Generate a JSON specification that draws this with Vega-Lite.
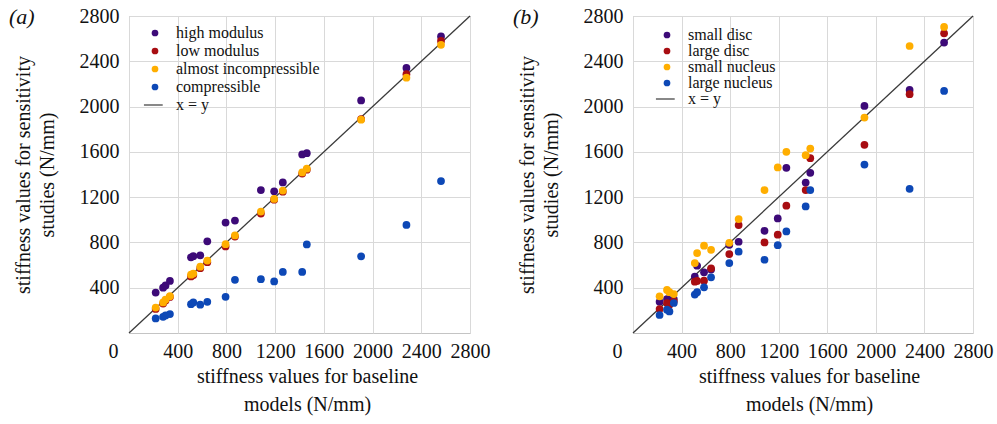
{
  "$schema": "https://vega.github.io/schema/vega-lite/v6.json",
  "padding": {"left": 8, "top": 5, "right": 5, "bottom": 5},
  "background": "white",
  "bounds": "flush",
  "spacing": 163,
  "config": {
    "view": {"stroke": "#c4c4c4", "strokeWidth": 1},
    "font": "Liberation Serif",
    "style": {"guide-label": {"font": "Liberation Serif"}, "guide-title": {"font": "Liberation Serif"}},
    "axis": {
      "labelFont": "Liberation Serif", "labelFontSize": 20, "labelColor": "#111",
      "titleFont": "Liberation Serif", "titleFontSize": 20, "titleFontWeight": "normal", "titleColor": "#111",
      "domain": false, "ticks": false, "gridColor": "#d9d9d9", "gridWidth": 1, "labelFlush": false, "format": "d"
    },
    "legend": {
      "labelFont": "Liberation Serif", "labelFontSize": 16, "labelColor": "#111",
      "symbolSize": 45, "labelOffset": 13, "padding": 0, "orient": "none"
    }
  },
  "datasets": {
    "diag": [{"x": 0, "y": 0}, {"x": 2800, "y": 2800}],
    "a": [
      {"x": 219, "y": 357, "s": "high modulus"}, {"x": 280, "y": 400, "s": "high modulus"}, {"x": 300, "y": 420, "s": "high modulus"}, {"x": 336, "y": 460, "s": "high modulus"},
      {"x": 509, "y": 668, "s": "high modulus"}, {"x": 528, "y": 679, "s": "high modulus"}, {"x": 585, "y": 686, "s": "high modulus"}, {"x": 643, "y": 810, "s": "high modulus"},
      {"x": 793, "y": 975, "s": "high modulus"}, {"x": 870, "y": 993, "s": "high modulus"}, {"x": 1083, "y": 1263, "s": "high modulus"}, {"x": 1192, "y": 1251, "s": "high modulus"},
      {"x": 1263, "y": 1330, "s": "high modulus"}, {"x": 1422, "y": 1577, "s": "high modulus"}, {"x": 1460, "y": 1588, "s": "high modulus"}, {"x": 1906, "y": 2054, "s": "high modulus"},
      {"x": 2278, "y": 2341, "s": "high modulus"}, {"x": 2562, "y": 2620, "s": "high modulus"},
      {"x": 219, "y": 212, "s": "low modulus"}, {"x": 280, "y": 260, "s": "low modulus"}, {"x": 300, "y": 287, "s": "low modulus"}, {"x": 336, "y": 318, "s": "low modulus"},
      {"x": 509, "y": 500, "s": "low modulus"}, {"x": 528, "y": 512, "s": "low modulus"}, {"x": 585, "y": 572, "s": "low modulus"}, {"x": 643, "y": 625, "s": "low modulus"},
      {"x": 793, "y": 765, "s": "low modulus"}, {"x": 870, "y": 852, "s": "low modulus"}, {"x": 1083, "y": 1055, "s": "low modulus"}, {"x": 1192, "y": 1178, "s": "low modulus"},
      {"x": 1263, "y": 1248, "s": "low modulus"}, {"x": 1422, "y": 1408, "s": "low modulus"}, {"x": 1460, "y": 1443, "s": "low modulus"}, {"x": 1906, "y": 1890, "s": "low modulus"},
      {"x": 2278, "y": 2286, "s": "low modulus"}, {"x": 2562, "y": 2580, "s": "low modulus"},
      {"x": 219, "y": 225, "s": "almost incompressible"}, {"x": 280, "y": 270, "s": "almost incompressible"}, {"x": 300, "y": 295, "s": "almost incompressible"}, {"x": 336, "y": 325, "s": "almost incompressible"},
      {"x": 509, "y": 515, "s": "almost incompressible"}, {"x": 528, "y": 525, "s": "almost incompressible"}, {"x": 585, "y": 586, "s": "almost incompressible"}, {"x": 643, "y": 640, "s": "almost incompressible"},
      {"x": 793, "y": 785, "s": "almost incompressible"}, {"x": 870, "y": 862, "s": "almost incompressible"}, {"x": 1083, "y": 1073, "s": "almost incompressible"}, {"x": 1192, "y": 1184, "s": "almost incompressible"},
      {"x": 1263, "y": 1258, "s": "almost incompressible"}, {"x": 1422, "y": 1418, "s": "almost incompressible"}, {"x": 1460, "y": 1451, "s": "almost incompressible"}, {"x": 1906, "y": 1884, "s": "almost incompressible"},
      {"x": 2278, "y": 2255, "s": "almost incompressible"}, {"x": 2562, "y": 2545, "s": "almost incompressible"},
      {"x": 219, "y": 129, "s": "compressible"}, {"x": 280, "y": 143, "s": "compressible"}, {"x": 300, "y": 155, "s": "compressible"}, {"x": 336, "y": 167, "s": "compressible"},
      {"x": 509, "y": 255, "s": "compressible"}, {"x": 528, "y": 270, "s": "compressible"}, {"x": 585, "y": 250, "s": "compressible"}, {"x": 643, "y": 275, "s": "compressible"},
      {"x": 793, "y": 320, "s": "compressible"}, {"x": 870, "y": 470, "s": "compressible"}, {"x": 1083, "y": 475, "s": "compressible"}, {"x": 1192, "y": 455, "s": "compressible"},
      {"x": 1263, "y": 539, "s": "compressible"}, {"x": 1422, "y": 539, "s": "compressible"}, {"x": 1460, "y": 782, "s": "compressible"}, {"x": 1906, "y": 677, "s": "compressible"},
      {"x": 2278, "y": 955, "s": "compressible"}, {"x": 2562, "y": 1342, "s": "compressible"}
    ],
    "b": [
      {"x": 219, "y": 276, "s": "small disc"}, {"x": 280, "y": 300, "s": "small disc"}, {"x": 300, "y": 290, "s": "small disc"}, {"x": 336, "y": 300, "s": "small disc"},
      {"x": 509, "y": 497, "s": "small disc"}, {"x": 528, "y": 594, "s": "small disc"}, {"x": 585, "y": 536, "s": "small disc"}, {"x": 643, "y": 560, "s": "small disc"},
      {"x": 793, "y": 779, "s": "small disc"}, {"x": 870, "y": 806, "s": "small disc"}, {"x": 1083, "y": 903, "s": "small disc"}, {"x": 1192, "y": 1012, "s": "small disc"},
      {"x": 1263, "y": 1459, "s": "small disc"}, {"x": 1422, "y": 1329, "s": "small disc"}, {"x": 1460, "y": 1415, "s": "small disc"}, {"x": 1906, "y": 2006, "s": "small disc"},
      {"x": 2278, "y": 2147, "s": "small disc"}, {"x": 2562, "y": 2565, "s": "small disc"},
      {"x": 219, "y": 212, "s": "large disc"}, {"x": 280, "y": 265, "s": "large disc"}, {"x": 300, "y": 250, "s": "large disc"}, {"x": 336, "y": 280, "s": "large disc"},
      {"x": 509, "y": 453, "s": "large disc"}, {"x": 528, "y": 460, "s": "large disc"}, {"x": 585, "y": 462, "s": "large disc"}, {"x": 643, "y": 571, "s": "large disc"},
      {"x": 793, "y": 697, "s": "large disc"}, {"x": 870, "y": 953, "s": "large disc"}, {"x": 1083, "y": 800, "s": "large disc"}, {"x": 1192, "y": 868, "s": "large disc"},
      {"x": 1263, "y": 1124, "s": "large disc"}, {"x": 1422, "y": 1262, "s": "large disc"}, {"x": 1460, "y": 1544, "s": "large disc"}, {"x": 1906, "y": 1662, "s": "large disc"},
      {"x": 2278, "y": 2109, "s": "large disc"}, {"x": 2562, "y": 2647, "s": "large disc"},
      {"x": 219, "y": 324, "s": "small nucleus"}, {"x": 280, "y": 380, "s": "small nucleus"}, {"x": 300, "y": 360, "s": "small nucleus"}, {"x": 336, "y": 344, "s": "small nucleus"},
      {"x": 509, "y": 618, "s": "small nucleus"}, {"x": 528, "y": 706, "s": "small nucleus"}, {"x": 585, "y": 771, "s": "small nucleus"}, {"x": 643, "y": 735, "s": "small nucleus"},
      {"x": 793, "y": 797, "s": "small nucleus"}, {"x": 870, "y": 1006, "s": "small nucleus"}, {"x": 1083, "y": 1262, "s": "small nucleus"}, {"x": 1192, "y": 1462, "s": "small nucleus"},
      {"x": 1263, "y": 1600, "s": "small nucleus"}, {"x": 1422, "y": 1571, "s": "small nucleus"}, {"x": 1460, "y": 1629, "s": "small nucleus"}, {"x": 1906, "y": 1903, "s": "small nucleus"},
      {"x": 2278, "y": 2535, "s": "small nucleus"}, {"x": 2562, "y": 2703, "s": "small nucleus"},
      {"x": 219, "y": 159, "s": "large nucleus"}, {"x": 280, "y": 206, "s": "large nucleus"}, {"x": 300, "y": 190, "s": "large nucleus"}, {"x": 336, "y": 265, "s": "large nucleus"},
      {"x": 509, "y": 340, "s": "large nucleus"}, {"x": 528, "y": 360, "s": "large nucleus"}, {"x": 585, "y": 403, "s": "large nucleus"}, {"x": 643, "y": 492, "s": "large nucleus"},
      {"x": 793, "y": 618, "s": "large nucleus"}, {"x": 870, "y": 718, "s": "large nucleus"}, {"x": 1083, "y": 647, "s": "large nucleus"}, {"x": 1192, "y": 776, "s": "large nucleus"},
      {"x": 1263, "y": 897, "s": "large nucleus"}, {"x": 1422, "y": 1118, "s": "large nucleus"}, {"x": 1460, "y": 1262, "s": "large nucleus"}, {"x": 1906, "y": 1488, "s": "large nucleus"},
      {"x": 2278, "y": 1274, "s": "large nucleus"}, {"x": 2562, "y": 2138, "s": "large nucleus"}
    ]
  },
  "resolve": {"scale": {"color": "independent", "shape": "independent"}, "legend": {"color": "independent", "shape": "independent"}},
  "hconcat": [
    {
      "width": 341, "height": 317,
      "title": {"text": "(a)", "anchor": "start", "frame": "group", "orient": "top", "offset": 0, "dx": -120, "dy": 23, "font": "Liberation Serif", "fontSize": 22, "fontStyle": "italic", "fontWeight": "normal", "color": "#111"},
      "layer": [
        {
          "data": {"name": "diag"},
          "mark": {"type": "line", "color": "#3a3a3a", "strokeWidth": 1.3},
          "encoding": {
            "x": {"field": "x", "type": "quantitative"},
            "y": {"field": "y", "type": "quantitative"}
          }
        },
        {
          "data": {"name": "a"},
          "mark": {"type": "point", "filled": true, "opacity": 1, "size": 60},
          "encoding": {
            "x": {"field": "x", "type": "quantitative", "scale": {"domain": [0, 2800], "nice": false},
              "axis": {"values": [0, 400, 800, 1200, 1600, 2000, 2400, 2800], "labelPadding": 8, "format": "d", "labelFont": "Liberation Serif",
                "labelOffset": {"condition": {"test": "datum.value === 0", "value": -16}, "value": 0},
                "title": ["stiffness values for baseline", "models (N/mm)"], "titleFont": "Liberation Serif", "titleLineHeight": 28, "titlePadding": 5, "titleX": 178}},
            "y": {"field": "y", "type": "quantitative", "scale": {"domain": [0, 2800], "nice": false},
              "axis": {"values": [400, 800, 1200, 1600, 2000, 2400, 2800], "labelPadding": 10, "format": "d", "labelFont": "Liberation Serif",
                "title": ["stiffness values for sensitivity", "studies (N/mm)"], "titleFont": "Liberation Serif", "titleLineHeight": 24, "titlePadding": 22}},
            "color": {"field": "s", "type": "nominal", "sort": null,
              "scale": {"domain": ["high modulus", "low modulus", "almost incompressible", "compressible", "x = y"], "range": ["#3d0a78", "#a80d12", "#ffae00", "#0d48b6", "#3a3a3a"]},
              "legend": {"title": null, "legendX": 18, "legendY": 9, "rowPadding": 2}},
            "shape": {"field": "s", "type": "nominal", "sort": null,
              "scale": {"domain": ["high modulus", "low modulus", "almost incompressible", "compressible", "x = y"], "range": ["circle", "circle", "circle", "circle", "M-3.3,-0.18H2.3V0.18H-3.3Z"]},
              "legend": {"title": null, "legendX": 18, "legendY": 9, "rowPadding": 2}}
          }
        }
      ]
    },
    {
      "width": 340, "height": 317,
      "title": {"text": "(b)", "anchor": "start", "frame": "group", "orient": "top", "offset": 0, "dx": -120, "dy": 23, "font": "Liberation Serif", "fontSize": 22, "fontStyle": "italic", "fontWeight": "normal", "color": "#111"},
      "layer": [
        {
          "data": {"name": "diag"},
          "mark": {"type": "line", "color": "#3a3a3a", "strokeWidth": 1.3},
          "encoding": {
            "x": {"field": "x", "type": "quantitative"},
            "y": {"field": "y", "type": "quantitative"}
          }
        },
        {
          "data": {"name": "b"},
          "mark": {"type": "point", "filled": true, "opacity": 1, "size": 60},
          "encoding": {
            "x": {"field": "x", "type": "quantitative", "scale": {"domain": [0, 2800], "nice": false},
              "axis": {"values": [0, 400, 800, 1200, 1600, 2000, 2400, 2800], "labelPadding": 8, "format": "d", "labelFont": "Liberation Serif",
                "labelOffset": {"condition": {"test": "datum.value === 0", "value": -16}, "value": 0},
                "title": ["stiffness values for baseline", "models (N/mm)"], "titleFont": "Liberation Serif", "titleLineHeight": 28, "titlePadding": 5, "titleX": 176}},
            "y": {"field": "y", "type": "quantitative", "scale": {"domain": [0, 2800], "nice": false},
              "axis": {"values": [400, 800, 1200, 1600, 2000, 2400, 2800], "labelPadding": 10, "format": "d", "labelFont": "Liberation Serif",
                "title": ["stiffness values for sensitivity", "studies (N/mm)"], "titleFont": "Liberation Serif", "titleLineHeight": 24, "titlePadding": 22}},
            "color": {"field": "s", "type": "nominal", "sort": null,
              "scale": {"domain": ["small disc", "large disc", "small nucleus", "large nucleus", "x = y"], "range": ["#3d0a78", "#a80d12", "#ffae00", "#0d48b6", "#3a3a3a"]},
              "legend": {"title": null, "legendX": 26, "legendY": 11, "rowPadding": -1}},
            "shape": {"field": "s", "type": "nominal", "sort": null,
              "scale": {"domain": ["small disc", "large disc", "small nucleus", "large nucleus", "x = y"], "range": ["circle", "circle", "circle", "circle", "M-3.3,-0.18H2.3V0.18H-3.3Z"]},
              "legend": {"title": null, "legendX": 26, "legendY": 11, "rowPadding": -1}}
          }
        }
      ]
    }
  ]
}
